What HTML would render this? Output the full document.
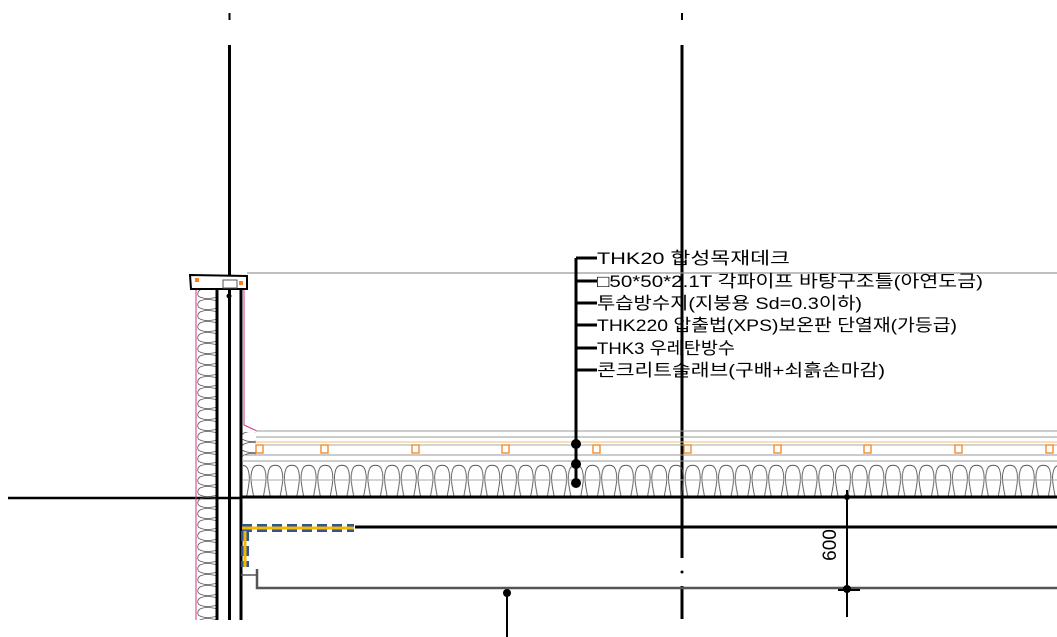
<!DOCTYPE html>
<html><head><meta charset="utf-8"><style>
html,body{margin:0;padding:0;background:#fff;}
svg{display:block;}
text{font-family:"Liberation Sans","Noto Sans CJK KR",sans-serif;font-size:17px;fill:#000;}
</style></head><body>
<svg width="1057" height="637" viewBox="0 0 1057 637" xmlns="http://www.w3.org/2000/svg">
<defs>
<pattern id="ins" x="0" y="463" width="16.7" height="33" patternUnits="userSpaceOnUse">
<path d="M3,33 C1,22 -1,14 2,6 C4,1 12,1 14,6 C17,14 15,22 13,33" fill="none" stroke="#555" stroke-width="0.9"/>
</pattern>
<pattern id="insv" x="196" y="288" width="22" height="11" patternUnits="userSpaceOnUse">
<path d="M22,2 C14,0 8,0 4,2 C1,4 1,8 4,9 C8,11 14,11 22,9" fill="none" stroke="#555" stroke-width="0.8"/>
</pattern>
</defs>
<line x1="229.5" y1="13" x2="229.5" y2="20" stroke="#000" stroke-width="2"/>
<line x1="229.5" y1="45" x2="229.5" y2="620" stroke="#000" stroke-width="3"/>
<line x1="682" y1="13" x2="682" y2="20" stroke="#000" stroke-width="2"/>
<line x1="682" y1="45" x2="682" y2="558" stroke="#000" stroke-width="3"/>
<circle cx="682" cy="572" r="1.5" fill="#000"/>
<line x1="682" y1="586" x2="682" y2="619" stroke="#000" stroke-width="3"/>
<line x1="8" y1="498" x2="240" y2="498" stroke="#000" stroke-width="2.5"/>
<line x1="247" y1="273" x2="1057" y2="273" stroke="#999" stroke-width="1.2"/>
<rect x="196" y="288" width="21" height="332" fill="url(#insv)"/>
<line x1="196" y1="288" x2="196" y2="620" stroke="#d63384" stroke-width="1"/>
<line x1="217" y1="288" x2="217" y2="620" stroke="#000" stroke-width="3"/>
<line x1="241" y1="288" x2="241" y2="620" stroke="#000" stroke-width="3"/>
<polyline points="244,288 244,425 257,431" fill="none" stroke="#d63384" stroke-width="1"/>
<polygon points="190,275 247,276 247,289 191,289" fill="#fff" stroke="#000" stroke-width="2"/>
<rect x="223" y="280" width="14" height="8" fill="none" stroke="#555" stroke-width="1"/>
<rect x="195" y="278" width="4" height="4" fill="#f58220"/>
<rect x="239" y="281" width="4" height="4" fill="#f58220"/>
<circle cx="229" cy="296" r="2.5" fill="#000"/>
<rect x="242" y="432" width="14" height="28" fill="url(#insv)"/>
<line x1="256" y1="431" x2="1057" y2="431" stroke="#999" stroke-width="1"/>
<line x1="256" y1="437" x2="1057" y2="437" stroke="#999" stroke-width="1"/>
<line x1="256" y1="442" x2="1057" y2="442" stroke="#f0c070" stroke-width="1"/>
<line x1="256" y1="445" x2="1057" y2="445" stroke="#aaa" stroke-width="1"/>
<line x1="242" y1="455" x2="1057" y2="455" stroke="#999" stroke-width="1"/>
<line x1="242" y1="461" x2="1057" y2="461" stroke="#999" stroke-width="1"/>
<rect x="243" y="463" width="814" height="33" fill="url(#ins)"/>
<line x1="243" y1="480" x2="1057" y2="480" stroke="#aaa" stroke-width="1"/>
<line x1="240" y1="497" x2="1057" y2="497" stroke="#000" stroke-width="3"/>
<g fill="#fff" stroke="#f58220" stroke-width="1.3">
<rect x="256" y="445" width="7" height="8"/><rect x="321" y="445" width="7" height="8"/>
<rect x="412" y="445" width="7" height="8"/><rect x="502" y="445" width="7" height="8"/>
<rect x="593" y="445" width="7" height="8"/><rect x="684" y="445" width="7" height="8"/>
<rect x="774" y="445" width="7" height="8"/><rect x="864" y="445" width="7" height="8"/>
<rect x="955" y="445" width="7" height="8"/><rect x="1046" y="445" width="7" height="8"/>
</g>
<line x1="355" y1="527" x2="1057" y2="527" stroke="#000" stroke-width="3"/>
<polyline points="242,528 354,528" fill="none" stroke="#2f5597" stroke-width="8" stroke-dasharray="10,5"/>
<polyline points="242,528 354,528" fill="none" stroke="#f5b800" stroke-width="3"/>
<polyline points="245,531 245,567" fill="none" stroke="#2f5597" stroke-width="8" stroke-dasharray="10,5"/>
<polyline points="245,531 245,567" fill="none" stroke="#f5b800" stroke-width="3"/>
<line x1="241" y1="575" x2="257" y2="575" stroke="#555" stroke-width="1.5"/>
<polyline points="257,569 257,588 1057,588" fill="none" stroke="#555" stroke-width="2.5"/>
<line x1="847" y1="490" x2="847" y2="617" stroke="#000" stroke-width="2"/>
<circle cx="847" cy="497" r="3" fill="#000"/>
<circle cx="847" cy="589" r="4" fill="#000"/>
<line x1="838" y1="590" x2="860" y2="590" stroke="#000" stroke-width="2"/>
<text x="0" y="0" transform="translate(836,545) rotate(-90)" text-anchor="middle" style="font-size:19px">600</text>
<circle cx="507" cy="593" r="4" fill="#000"/>
<line x1="507" y1="593" x2="507" y2="637" stroke="#000" stroke-width="2"/>
<line x1="576" y1="258" x2="576" y2="483" stroke="#000" stroke-width="3"/>
<g stroke="#000" stroke-width="3">
<line x1="576" y1="258" x2="597" y2="258"/><line x1="576" y1="281" x2="597" y2="281"/>
<line x1="576" y1="303" x2="597" y2="303"/><line x1="576" y1="325" x2="597" y2="325"/>
<line x1="576" y1="348" x2="597" y2="348"/><line x1="576" y1="370" x2="597" y2="370"/>
</g>
<circle cx="576" cy="444" r="5" fill="#000"/>
<circle cx="576" cy="464" r="5" fill="#000"/>
<circle cx="576" cy="483" r="5" fill="#000"/>
<text x="597" y="264" textLength="193" lengthAdjust="spacingAndGlyphs">THK20 합성목재데크</text>
<text x="597" y="287" textLength="386" lengthAdjust="spacingAndGlyphs">□50*50*2.1T 각파이프 바탕구조틀(아연도금)</text>
<text x="597" y="309" textLength="265" lengthAdjust="spacingAndGlyphs">투습방수지(지붕용 Sd=0.3이하)</text>
<text x="597" y="331" textLength="360" lengthAdjust="spacingAndGlyphs">THK220 압출법(XPS)보온판 단열재(가등급)</text>
<text x="597" y="354" textLength="138" lengthAdjust="spacingAndGlyphs">THK3 우레탄방수</text>
<text x="597" y="376" textLength="288" lengthAdjust="spacingAndGlyphs">콘크리트슬래브(구배+쇠흙손마감)</text>
</svg>
</body></html>
